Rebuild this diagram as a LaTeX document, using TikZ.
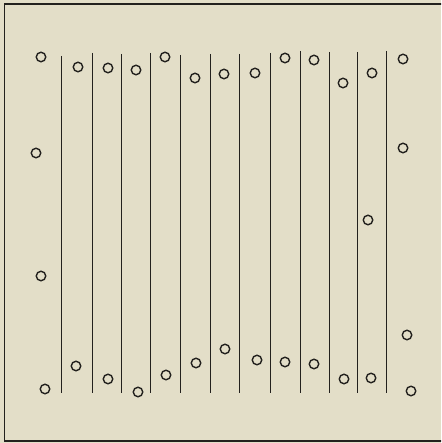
\documentclass[tikz,border=0pt]{standalone}
\definecolor{paper}{RGB}{227,222,200}
\definecolor{ink}{RGB}{35,33,30}
\tikzset{
  ring/.style={circle, draw=ink, line width=1.4pt, minimum size=9.5pt, inner sep=0pt},
  rule/.style={draw=ink, line width=0.9pt},
  frame/.style={draw=ink, line width=1.8pt}
}
\begin{document}
\begin{tikzpicture}[x=1pt,y=-1pt]
\useasboundingbox (0,0) rectangle (441,443);
\fill[paper] (0,0) rectangle (441,443);
\begin{scope}
\clip (0,0) rectangle (441,443);
\draw[frame] (4.5,4) rectangle (445,441);
\end{scope}
% vertical rules
\foreach \x/\t in {61/56,92/53,121/54,150/53,180/55,210/54,239/54,270/53,300/51,329/52,357/52,386/51}
  \draw[rule] (\x,\t) -- (\x,393);
% rings
\foreach \n/\x/\y in {
  a1/41/57, a2/78/67, a3/108/68, a4/136/70, a5/165/57, a6/195/78,
  a7/224/74, a8/255/73, a9/285/58, a10/314/60, a11/343/83, a12/372/73, a13/403/59,
  b1/36/153, b2/403/148, b3/368/220, b4/41/276,
  c1/45/389, c2/76/366, c3/108/379, c4/138/392, c5/166/375, c6/196/363,
  c7/225/349, c8/257/360, c9/285/362, c10/314/364, c11/344/379, c12/371/378,
  c13/407/335, c14/411/391}
  \node[ring] (\n) at (\x,\y) {};
\end{tikzpicture}
\end{document}
